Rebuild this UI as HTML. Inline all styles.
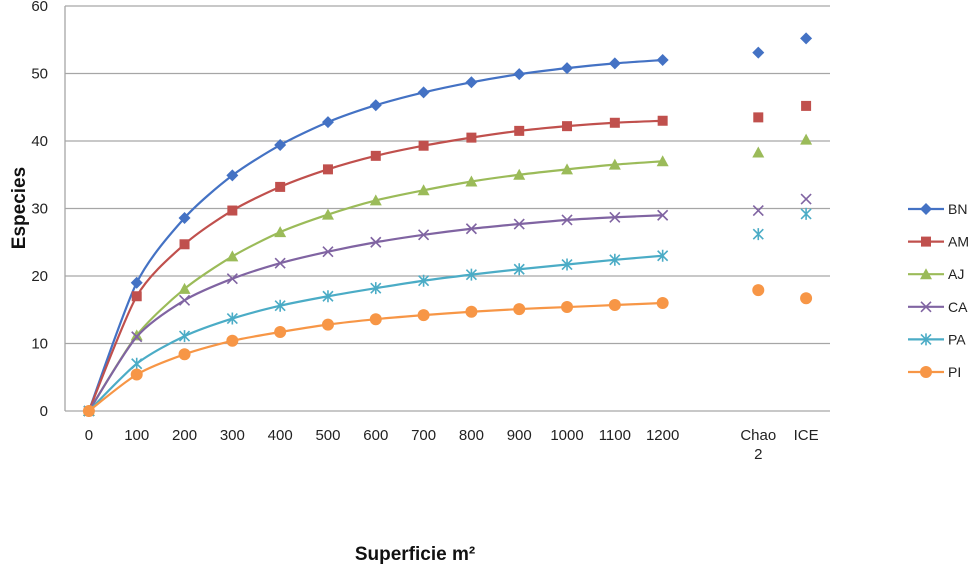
<!DOCTYPE html>
<html><head><meta charset="utf-8"><style>
body{margin:0;background:#fff;}
svg{font-family:"Liberation Sans",sans-serif;}
</style></head><body>
<svg id="c" width="973" height="567"></svg>
<script>
const categories=["0","100","200","300","400","500","600","700","800","900","1000","1100","1200","","Chao 2","ICE"];
const yTicks=[0,10,20,30,40,50,60];
const seriesNames=["BN","AM","AJ","CA","PA","PI"];
const colors=["#4472c4","#c0504d","#9bbb59","#8064a2","#4bacc6","#f79646"];
const markers=["diamond","square","triangle","x","star","circle"];
const BN=[0,19,28.6,34.9,39.4,42.8,45.3,47.2,48.7,49.9,50.8,51.5,52];
const AM=[0,17,24.7,29.7,33.2,35.8,37.8,39.3,40.5,41.5,42.2,42.7,43];
const AJ=[0,11.2,18.1,22.9,26.5,29.1,31.2,32.7,34,35,35.8,36.5,37];
const CA=[0,11,16.4,19.6,21.9,23.6,25,26.1,27,27.7,28.3,28.7,29];
const PA=[0,7,11.1,13.7,15.6,17,18.2,19.3,20.2,21,21.7,22.4,23];
const PI=[0,5.4,8.4,10.4,11.7,12.8,13.6,14.2,14.7,15.1,15.4,15.7,16];
const chao2=[53.1,43.5,38.3,29.7,26.2,17.9];
const ice=[55.2,45.2,40.2,31.4,29.2,16.7];
const curves=[BN,AM,AJ,CA,PA,PI];

const NS="http://www.w3.org/2000/svg";
const svg=document.getElementById('c');
const L=65,R=830,T=6,B=411;
const bw=(R-L)/categories.length;
const xs=i=>L+bw*(i+0.5);
const ys=v=>B-(v/60)*(B-T);
function mk(tag,attrs,parent){const e=document.createElementNS(NS,tag);for(const k in attrs)e.setAttribute(k,attrs[k]);(parent||svg).appendChild(e);return e;}

yTicks.forEach(t=>{
  const g=mk('line',{x1:L,x2:R,y1:ys(t),y2:ys(t),stroke:'#a6a6a6','stroke-width':1.3});
  
  
  const tx=mk('text',{x:48,y:ys(t)+5,'text-anchor':'end','font-size':15,fill:'#222'});
  tx.textContent=t;
  
  
});
const ax=mk('line',{x1:L,x2:L,y1:T,y2:B,stroke:'#a6a6a6','stroke-width':1.3});



categories.forEach((c,i)=>{
  if(!c)return;
  const parts=c.split(' ');
  parts.forEach((p,j)=>{
    const tx=mk('text',{x:xs(i),y:440+j*19,'text-anchor':'middle','font-size':15,fill:'#222'});
    tx.textContent=p;
    
    
  });
});

function marker(type,x,y,col,parent){
  let e;
  if(type==='diamond')e=mk('path',{d:`M${x},${y-6}L${x+6},${y}L${x},${y+6}L${x-6},${y}Z`,fill:col},parent);
  else if(type==='square')e=mk('rect',{x:x-5,y:y-5,width:10,height:10,fill:col},parent);
  else if(type==='triangle')e=mk('path',{d:`M${x},${y-6}L${x+6},${y+5}L${x-6},${y+5}Z`,fill:col},parent);
  else if(type==='x')e=mk('path',{d:`M${x-5},${y-5}L${x+5},${y+5}M${x+5},${y-5}L${x-5},${y+5}`,stroke:col,'stroke-width':1.6,fill:'none'},parent);
  else if(type==='star')e=mk('path',{d:`M${x-5},${y-5}L${x+5},${y+5}M${x+5},${y-5}L${x-5},${y+5}M${x},${y-6}L${x},${y+6}`,stroke:col,'stroke-width':1.6,fill:'none'},parent);
  else e=mk('circle',{cx:x,cy:y,r:6,fill:col},parent);
  return e;
}
function smooth(pts){
  let d=`M${pts[0][0]},${pts[0][1]}`;
  for(let i=0;i<pts.length-1;i++){
    const p0=pts[Math.max(0,i-1)],p1=pts[i],p2=pts[i+1],p3=pts[Math.min(pts.length-1,i+2)];
    const t=0.13;
    d+=`C${p1[0]+(p2[0]-p0[0])*t},${p1[1]+(p2[1]-p0[1])*t} ${p2[0]-(p3[0]-p1[0])*t},${p2[1]-(p3[1]-p1[1])*t} ${p2[0]},${p2[1]}`;
  }
  return d;
}
curves.forEach((vals,s)=>{
  const g=mk('g',{});
  
  
  const pts=vals.map((v,i)=>[xs(i),ys(v)]);
  mk('path',{d:smooth(pts),fill:'none',stroke:colors[s],'stroke-width':2.2},g);
  pts.forEach(p=>marker(markers[s],p[0],p[1],colors[s],g));
  marker(markers[s],xs(14),ys(chao2[s]),colors[s],g);
  marker(markers[s],xs(15),ys(ice[s]),colors[s],g);
});

seriesNames.forEach((n,s)=>{
  const y=209+s*32.6;
  const g=mk('g',{});
  
  
  mk('line',{x1:908,x2:944,y1:y,y2:y,stroke:colors[s],'stroke-width':2.2},g);
  marker(markers[s],926,y,colors[s],g);
  const tx=mk('text',{x:948,y:y+5,'font-size':14,fill:'#222'},g);
  tx.textContent=n;
});

const yt=mk('text',{x:0,y:0,transform:'translate(25,208) rotate(-90)','text-anchor':'middle','font-size':19,'font-weight':'bold',fill:'#111'});
yt.textContent='Especies';


const xt=mk('text',{x:415,y:560,'text-anchor':'middle','font-size':19,'font-weight':'bold',fill:'#111'});
xt.textContent='Superficie m²';


</script>
</body></html>
